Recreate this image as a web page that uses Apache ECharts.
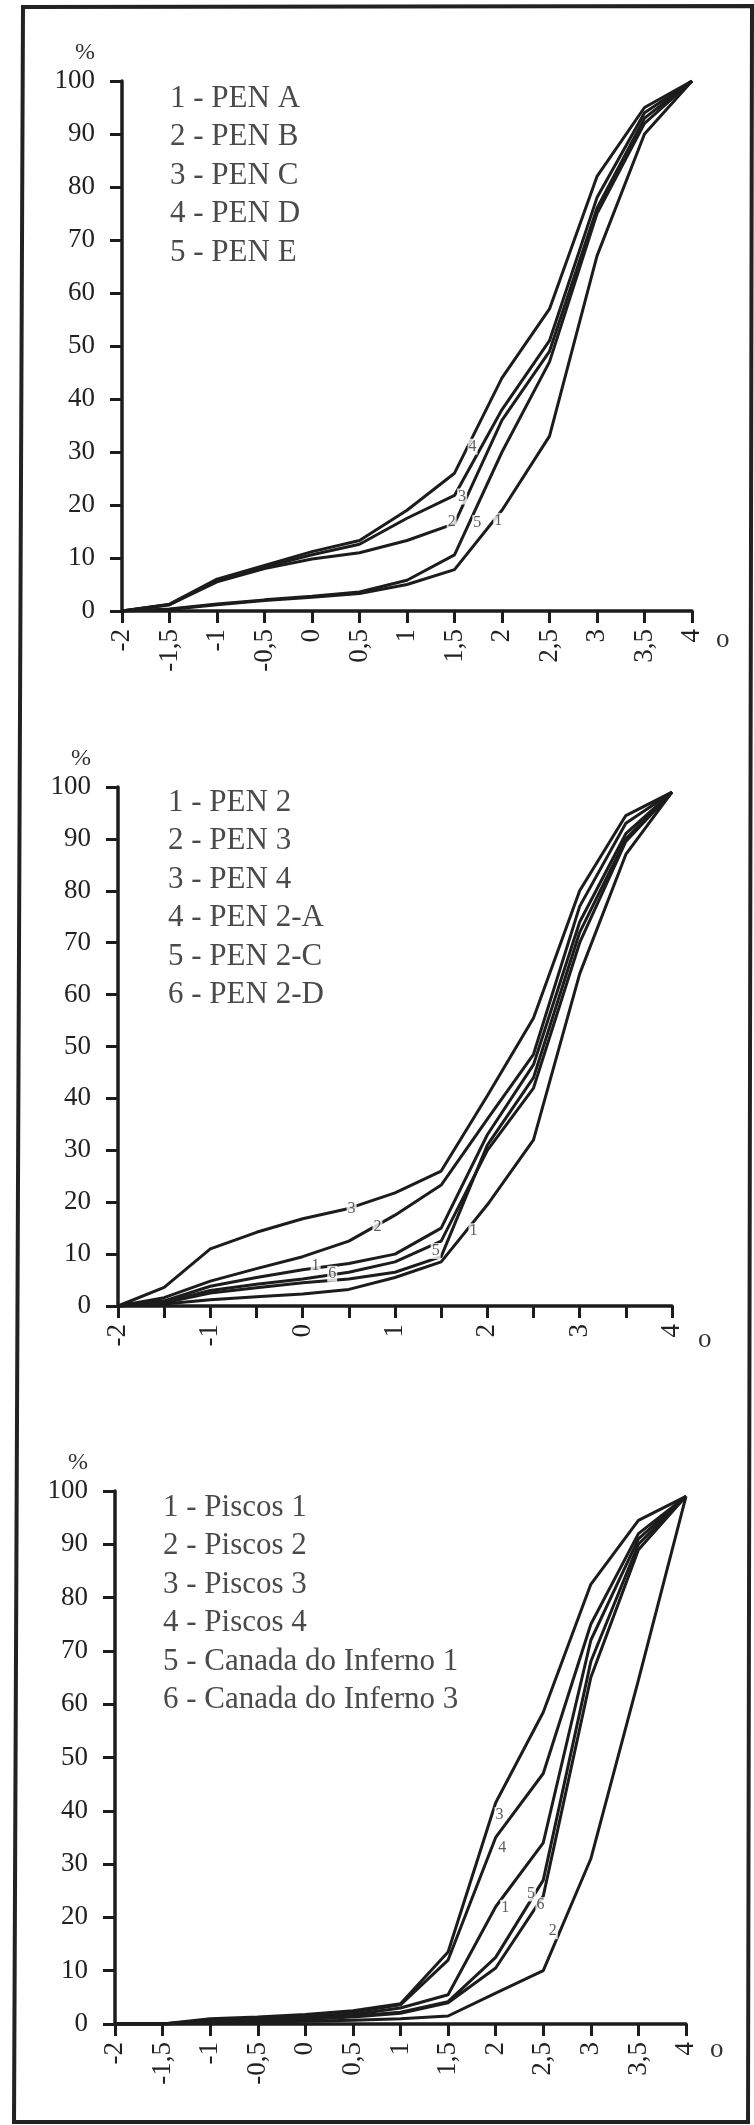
<!DOCTYPE html>
<html>
<head>
<meta charset="utf-8">
<title>Curvas granulométricas</title>
<script src="https://cdn.jsdelivr.net/npm/echarts/dist/echarts.min.js"></script>
<style>
html,body{margin:0;padding:0;background:#fff;}
#chart{width:754px;height:2125px;}
</style>
</head>
<body>
<div id="chart"></div>
<script>
// classes granulométricas (phi)
var xs = [-2, -1.5, -1, -0.5, 0, 0.5, 1, 1.5, 2, 2.5, 3, 3.5, 4];

// etiquetas dos eixos
var xTicks1 = ['-2','-1,5','-1','-0,5','0','0,5','1','1,5','2','2,5','3','3,5','4'];
var xTicks2 = ['-2','','-1','','0','','1','','2','','3','','4'];
var xTicks3 = ['-2','-1,5','-1','-0,5','0','0,5','1','1,5','2','2,5','3','3,5','4'];
var yTicks = ['0','10','20','30','40','50','60','70','80','90','100'];

// painel 1
var names1 = ['1 - PEN A','2 - PEN B','3 - PEN C','4 - PEN D','5 - PEN E'];
var penA = [0, 0.3, 1.2, 2.0, 2.6, 3.3, 5.0, 7.8, 19, 33, 67, 90, 100];
var penB = [0, 1.2, 5.5, 8.0, 9.8, 11, 13.3, 16.5, 36, 49, 76, 93, 100];
var penC = [0, 1.2, 5.8, 8.3, 10.6, 12.6, 17.5, 21.8, 38, 51, 78, 94, 100];
var penD = [0, 1.3, 6.0, 8.6, 11.2, 13.3, 19, 26, 44, 57, 82, 95, 100];
var penE = [0, 0.4, 1.3, 2.1, 2.8, 3.6, 5.8, 10.6, 30, 47, 75, 92, 100];
var tags1 = [[1.69, 31, '4'], [1.58, 21.6, '3'], [1.47, 16.8, '2'], [1.74, 16.6, '5'], [1.96, 17, '1']];

// painel 2
var names2 = ['1 - PEN 2','2 - PEN 3','3 - PEN 4','4 - PEN 2-A','5 - PEN 2-C','6 - PEN 2-D'];
var pen2  = [0, 0.4, 1.2, 1.8, 2.3, 3.2, 5.5, 8.5, 19.5, 32, 64, 87, 99];
var pen3  = [0, 1.6, 4.8, 7.2, 9.5, 12.5, 17.5, 23.3, 36, 48.5, 77, 93, 99];
var pen4  = [0, 3.6, 11, 14.2, 16.8, 18.8, 21.8, 26, 40.5, 55.5, 80, 94.5, 99];
var pen2A = [0, 1.0, 3.8, 5.5, 7.0, 8.2, 10, 15, 33, 46.5, 74, 91, 99];
var pen2C = [0, 0.8, 3.0, 4.2, 5.2, 6.5, 8.5, 12.5, 30, 42, 70, 89.5, 99];
var pen2D = [0, 0.6, 2.5, 3.5, 4.5, 5.2, 6.5, 9.5, 31, 44, 72, 90, 99];
var tags2 = [[0.53, 18.7, '3'], [0.81, 15.3, '2'], [0.14, 7.8, '1'], [0.32, 6.2, '6'], [1.44, 10.6, '5'], [1.85, 14.4, '1']];

// painel 3
var names3 = ['1 - Piscos 1','2 - Piscos 2','3 - Piscos 3','4 - Piscos 4','5 - Canada do Inferno 1','6 - Canada do Inferno 3'];
var piscos1 = [0, 0, 0.6, 0.9, 1.3, 1.8, 3.0, 5.5, 22, 34, 72, 91, 99];
var piscos2 = [0, 0, 0.2, 0.3, 0.5, 0.7, 1.0, 1.5, 5.8, 10, 31, 64.5, 99];
var piscos3 = [0, 0, 1.0, 1.3, 1.8, 2.5, 3.8, 13.5, 41.5, 58.5, 82.5, 94.5, 99];
var piscos4 = [0, 0, 0.8, 1.1, 1.6, 2.2, 3.6, 12, 35, 47, 75, 92, 99];
var inferno1 = [0, 0, 0.5, 0.7, 1.0, 1.5, 2.2, 4.2, 12.5, 27, 68, 90, 99];
var inferno3 = [0, 0, 0.4, 0.6, 0.9, 1.3, 2.0, 4.0, 10.5, 24, 65, 89, 99];
var tags3 = [[2.04, 39.2, '3'], [2.07, 33, '4'], [2.1, 21.8, '1'], [2.37, 24.5, '5'], [2.47, 22.3, '6'], [2.6, 17.4, '2']];

var serif = 'Liberation Serif';
var ink = '#1c1c1c';

function makeX(idx, labels, gap, padTop){
	return {
		type:'value', gridIndex:idx, min:-2, max:4, interval:0.5,
		name:'o', nameLocation:'end', nameGap:gap,
		nameTextStyle:{fontFamily:serif, fontSize:27, color:'#333', verticalAlign:'top', padding:[padTop,0,0,0]},
		axisLine:{show:true, onZero:false, lineStyle:{color:ink, width:3.5}},
		axisTick:{show:true, length:12, lineStyle:{color:ink, width:3}},
		splitLine:{show:false},
		axisLabel:{
			rotate:90, margin:18, fontFamily:serif, fontSize:27, color:'#222',
			formatter:function(v){ return labels[Math.round((v + 2) / 0.5)]; }
		}
	};
}
function makeY(idx){
	return {
		type:'value', gridIndex:idx, min:0, max:100, interval:10,
		name:'%', nameLocation:'end', nameGap:16,
		nameTextStyle:{fontFamily:serif, fontSize:24, color:'#333', align:'center', verticalAlign:'bottom', padding:[0,74,0,0]},
		axisLine:{show:true, onZero:false, lineStyle:{color:ink, width:3.5}},
		axisTick:{show:true, length:12, lineStyle:{color:ink, width:3}},
		splitLine:{show:false},
		axisLabel:{
			margin:27, fontFamily:serif, fontSize:27, color:'#222',
			formatter:function(v){ return yTicks[Math.round(v / 10)]; }
		}
	};
}
function makeLine(name, vals, idx){
	return {
		name:name, type:'line', xAxisIndex:idx, yAxisIndex:idx,
		data:xs.map(function(x, i){ return [x, vals[i]]; }),
		symbol:'none', silent:true, z:2,
		lineStyle:{color:ink, width:3},
		itemStyle:{color:ink}
	};
}
function makeTags(tags, idx){
	return {
		type:'scatter', xAxisIndex:idx, yAxisIndex:idx, data:tags,
		symbolSize:1, silent:true, z:5,
		itemStyle:{color:'rgba(0,0,0,0)'},
		label:{
			show:true, position:'inside', fontFamily:serif, fontSize:16, color:'#333',
			backgroundColor:'#fff', padding:[0,1],
			formatter:function(p){ return p.value[2]; }
		}
	};
}
function makeLegend(names, left, top){
	return {
		data:names, orient:'vertical', left:left, top:top,
		icon:'none', itemWidth:0, itemHeight:31, itemGap:7.5, selectedMode:false,
		textStyle:{fontFamily:serif, fontSize:31, color:'#4a4a4a'}
	};
}

var series = [];
[penA, penB, penC, penD, penE].forEach(function(v, i){ series.push(makeLine(names1[i], v, 0)); });
[pen2, pen3, pen4, pen2A, pen2C, pen2D].forEach(function(v, i){ series.push(makeLine(names2[i], v, 1)); });
[piscos1, piscos2, piscos3, piscos4, inferno1, inferno3].forEach(function(v, i){ series.push(makeLine(names3[i], v, 2)); });
series.push(makeTags(tags1, 0));
series.push(makeTags(tags2, 1));
series.push(makeTags(tags3, 2));

var myChart = echarts.init(document.getElementById('chart'));
var option = {
	animation:false,
	backgroundColor:'#fff',
	grid:[
		{left:122, top:81, width:570, height:530},
		{left:118, top:787, width:554, height:519},
		{left:115, top:1491, width:571, height:533}
	],
	xAxis:[makeX(0, xTicks1, 24, 15), makeX(1, xTicks2, 26, 20), makeX(2, xTicks3, 24, 12)],
	yAxis:[makeY(0), makeY(1), makeY(2)],
	legend:[makeLegend(names1, 160, 78), makeLegend(names2, 158, 782), makeLegend(names3, 153, 1487)],
	graphic:[{
		type:'polygon', silent:true,
		shape:{points:[[23,7],[752,6],[748,2122],[14,2122]]},
		style:{fill:'none', stroke:'#222', lineWidth:4}
	}],
	series:series
};
myChart.setOption(option);
</script>
</body>
</html>
